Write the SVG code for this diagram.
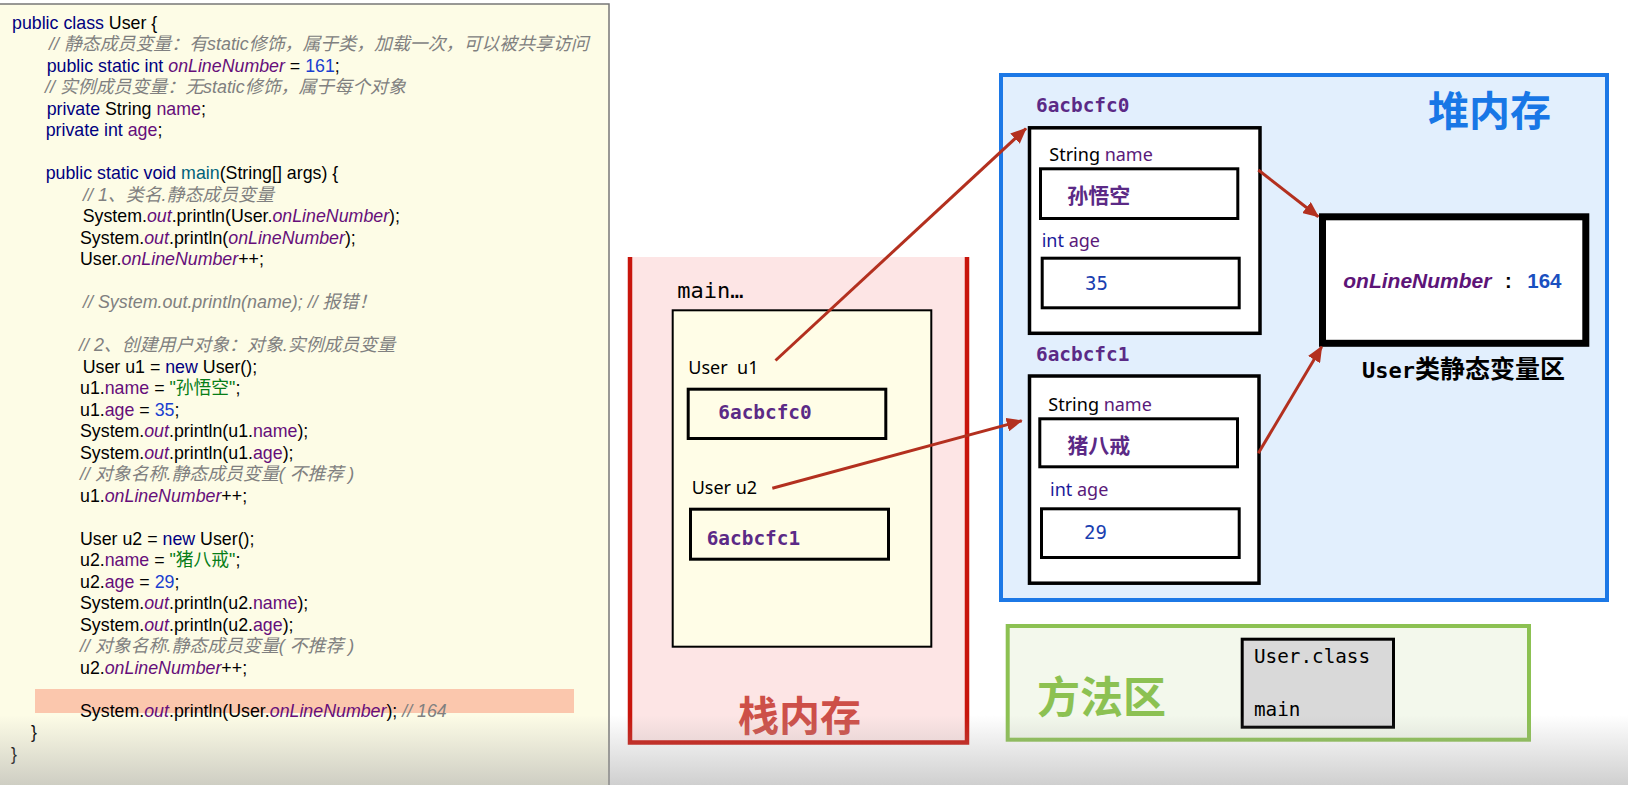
<svg xmlns="http://www.w3.org/2000/svg" width="1628" height="785" viewBox="0 0 1628 785">
<defs>
<style>
.code{font-family:"Liberation Sans","Noto Sans CJK SC",sans-serif;font-size:17.8px;fill:#000;white-space:pre}
.kw{fill:#000080}
.fld{fill:#660e7a}
.st{fill:#660e7a;font-style:italic}
.num{fill:#1a3fd0}
.str{fill:#067d17}
.cm{fill:#808080;font-style:italic}
.cmt{font-size:17.9px}
.mth{fill:#00627a}
.mono{font-family:"DejaVu Sans Mono","Liberation Mono",monospace;white-space:pre}
.addr{font-family:"DejaVu Sans Mono","Liberation Mono",monospace;font-weight:bold;font-size:19.4px;fill:#5b2a86}
.lbl{font-family:"Noto Sans","Noto Sans CJK SC",sans-serif;font-size:18px;fill:#000;white-space:pre}
.cjkv{font-family:"Noto Sans CJK SC",sans-serif;font-weight:bold;font-size:21px;fill:#5b2a86}
.box{fill:none;stroke:#000;stroke-width:3}
.val{font-family:"DejaVu Sans Mono","Liberation Mono",monospace;font-size:19px;fill:#1a3fb0}
.conn{stroke:#b3301f;stroke-width:3;fill:none;marker-end:url(#ah)}
</style>
<marker id="ah" markerUnits="userSpaceOnUse" markerWidth="16" markerHeight="14" refX="15" refY="7" orient="auto">
<path d="M0,0 L16,7 L0,14 z" fill="#b3301f"/>
</marker>
<linearGradient id="shade" x1="0" y1="0" x2="0" y2="1">
<stop offset="0" stop-color="#a0a0a0" stop-opacity="0"/>
<stop offset="1" stop-color="#a0a0a0" stop-opacity="0.5"/>
</linearGradient>
</defs>
<rect x="0" y="0" width="1628" height="785" fill="#ffffff"/>

<g id="code-panel">
<rect x="-2" y="4" width="611" height="790" fill="#fdfce6" stroke="#777" stroke-width="1.5"/>
<rect x="35" y="689" width="539" height="24" fill="#fbc7ad"/>
<text class="code" x="12" y="28.5"><tspan class="kw">public class</tspan> User {</text>
<text class="code cm cmt" x="49" y="50">// 静态成员变量：有static修饰，属于类，加载一次，可以被共享访问</text>
<text class="code" x="46.7" y="71.5"><tspan class="kw">public static int </tspan><tspan class="st">onLineNumber</tspan> = <tspan class="num">161</tspan>;</text>
<text class="code cm cmt" x="45" y="93">// 实例成员变量：无static修饰，属于每个对象</text>
<text class="code" x="46.7" y="114.5"><tspan class="kw">private </tspan>String <tspan class="fld">name</tspan>;</text>
<text class="code" x="45.7" y="136"><tspan class="kw">private int </tspan><tspan class="fld">age</tspan>;</text>
<text class="code" x="45.7" y="179"><tspan class="kw">public static void </tspan><tspan class="mth">main</tspan>(String[] args) {</text>
<text class="code cm cmt" x="83" y="200.5">// 1、类名.静态成员变量</text>
<text class="code" x="82.7" y="222">System.<tspan class="st">out</tspan>.println(User.<tspan class="st">onLineNumber</tspan>);</text>
<text class="code" x="80" y="243.5">System.<tspan class="st">out</tspan>.println(<tspan class="st">onLineNumber</tspan>);</text>
<text class="code" x="80" y="265">User.<tspan class="st">onLineNumber</tspan>++;</text>
<text class="code cm cmt" x="83" y="308">// System.out.println(name); // 报错！</text>
<text class="code cm cmt" x="79" y="351">// 2、创建用户对象：对象.实例成员变量</text>
<text class="code" x="82.7" y="372.5">User u1 = <tspan class="kw">new</tspan> User();</text>
<text class="code" x="80" y="394">u1.<tspan class="fld">name</tspan> = <tspan class="str">"孙悟空"</tspan>;</text>
<text class="code" x="80" y="415.5">u1.<tspan class="fld">age</tspan> = <tspan class="num">35</tspan>;</text>
<text class="code" x="80" y="437">System.<tspan class="st">out</tspan>.println(u1.<tspan class="fld">name</tspan>);</text>
<text class="code" x="80" y="458.5">System.<tspan class="st">out</tspan>.println(u1.<tspan class="fld">age</tspan>);</text>
<text class="code cm cmt" x="80" y="480">// 对象名称.静态成员变量( 不推荐 )</text>
<text class="code" x="80" y="501.5">u1.<tspan class="st">onLineNumber</tspan>++;</text>
<text class="code" x="80" y="544.5">User u2 = <tspan class="kw">new</tspan> User();</text>
<text class="code" x="80" y="566">u2.<tspan class="fld">name</tspan> = <tspan class="str">"猪八戒"</tspan>;</text>
<text class="code" x="80" y="587.5">u2.<tspan class="fld">age</tspan> = <tspan class="num">29</tspan>;</text>
<text class="code" x="80" y="609">System.<tspan class="st">out</tspan>.println(u2.<tspan class="fld">name</tspan>);</text>
<text class="code" x="80" y="630.5">System.<tspan class="st">out</tspan>.println(u2.<tspan class="fld">age</tspan>);</text>
<text class="code cm cmt" x="80" y="652">// 对象名称.静态成员变量( 不推荐 )</text>
<text class="code" x="80" y="673.5">u2.<tspan class="st">onLineNumber</tspan>++;</text>
<text class="code" x="80" y="716.5">System.<tspan class="st">out</tspan>.println(User.<tspan class="st">onLineNumber</tspan>); <tspan class="cm">// 164</tspan></text>
<text class="code" x="31" y="738">}</text>
<text class="code" x="11" y="759.5">}</text>
</g>

<g id="stack">
<rect x="630" y="257" width="337" height="485.5" fill="#fde5e5"/>
<path d="M630,257 V742.5 H967 V257" fill="none" stroke="#c8150c" stroke-width="4.5"/>
<text class="mono" x="677.3" y="298.3" font-size="22" fill="#000">main…</text>
<rect x="672.7" y="310.3" width="258.6" height="336.4" fill="#fffde7" stroke="#000" stroke-width="2"/>
<text x="738" y="731" font-family="Noto Sans CJK SC,sans-serif" font-weight="bold" font-size="41" fill="#cd4f48">栈内存</text>
</g>

<g id="var-u1">
<text class="lbl" x="688.3" y="374">User  u1</text>
<rect class="box" x="688.2" y="389.2" width="197.6" height="49.3"/>
<text class="addr" x="718.3" y="419">6acbcfc0</text>
</g>

<g id="var-u2">
<text class="lbl" x="691.7" y="494">User u2</text>
<rect class="box" x="690.5" y="509.2" width="198" height="50"/>
<text class="addr" x="706.7" y="545">6acbcfc1</text>
</g>

<g id="heap">
<rect x="1001" y="75" width="606" height="525" fill="#e2effd" stroke="#1c78e6" stroke-width="4"/>
<text x="1551" y="126" font-family="Noto Sans CJK SC,sans-serif" font-weight="bold" font-size="41" fill="#1877e6" text-anchor="end">堆内存</text>
</g>

<g id="obj0">
<text class="addr" x="1036" y="111.7">6acbcfc0</text>
<rect x="1029.5" y="127.8" width="230.5" height="205.5" fill="#fff" stroke="#000" stroke-width="3.5"/>
<text class="lbl" x="1049.3" y="160.7" font-size="17.5">String <tspan fill="#5a1a7a">name</tspan></text>
<rect class="box" x="1040.5" y="168.8" width="197.3" height="49.7"/>
<text class="cjkv" x="1067.3" y="203">孙悟空</text>
<text class="lbl" x="1041.7" y="247.3" font-size="17.5"><tspan fill="#1a1a9a">int</tspan> <tspan fill="#5a1a7a">age</tspan></text>
<rect class="box" x="1042.2" y="258.2" width="197" height="49.6"/>
<text class="val" x="1085" y="290">35</text>
</g>

<g id="obj1">
<text class="addr" x="1036" y="360.7">6acbcfc1</text>
<rect x="1029.5" y="376" width="229.5" height="207.2" fill="#fff" stroke="#000" stroke-width="3.5"/>
<text class="lbl" x="1048.3" y="410.7" font-size="17.5">String <tspan fill="#5a1a7a">name</tspan></text>
<rect class="box" x="1039.8" y="418.8" width="197.7" height="48"/>
<text class="cjkv" x="1067.3" y="453">猪八戒</text>
<text class="lbl" x="1050" y="495.7" font-size="17.5"><tspan fill="#1a1a9a">int</tspan> <tspan fill="#5a1a7a">age</tspan></text>
<rect class="box" x="1041.5" y="508.8" width="197.7" height="48.7"/>
<text class="val" x="1084" y="539">29</text>
</g>

<g id="static-area">
<rect x="1322.5" y="216.8" width="263.3" height="126.5" fill="#fff" stroke="#000" stroke-width="7"/>
<text x="1343.3" y="287.7" font-family="Liberation Sans,Arial,sans-serif" font-weight="bold" font-size="21" fill="#5d1478" font-style="italic">onLineNumber</text>
<text x="1505" y="287.7" font-family="Liberation Sans,Arial,sans-serif" font-weight="bold" font-size="20" fill="#000">:</text>
<text x="1527.3" y="287.7" font-family="Liberation Sans,Arial,sans-serif" font-weight="bold" font-size="20.5" fill="#1a4fc0">164</text>
<text x="1362" y="378.3" font-weight="bold" font-size="22" fill="#000"><tspan font-family="DejaVu Sans Mono,monospace">User</tspan><tspan font-family="Noto Sans CJK SC,sans-serif" font-size="25">类静态变量区</tspan></text>
</g>

<g id="method-area">
<rect x="1007.7" y="626" width="521.3" height="113.7" fill="#f3f8ec" stroke="#8cc152" stroke-width="4"/>
<text x="1037" y="713" font-family="Noto Sans CJK SC,sans-serif" font-weight="bold" font-size="43" fill="#8cc152">方法区</text>
<rect x="1242.2" y="639.2" width="151.3" height="88" fill="#d9d9d9" stroke="#000" stroke-width="3"/>
<text class="mono" x="1254" y="663.3" font-size="19.3" fill="#000">User.class</text>
<text class="mono" x="1254" y="715.7" font-size="19.3" fill="#000">main</text>
</g>

<g id="connectors">
<line class="conn" x1="775.5" y1="360.5" x2="1026" y2="128.5"/>
<line class="conn" x1="772.3" y1="488.3" x2="1021.7" y2="420.7"/>
<line class="conn" x1="1258.3" y1="170" x2="1318.3" y2="216.7"/>
<line class="conn" x1="1258.3" y1="453.3" x2="1321.7" y2="346.7"/>
</g>

<rect x="0" y="715" width="1628" height="70" fill="url(#shade)"/>
</svg>
